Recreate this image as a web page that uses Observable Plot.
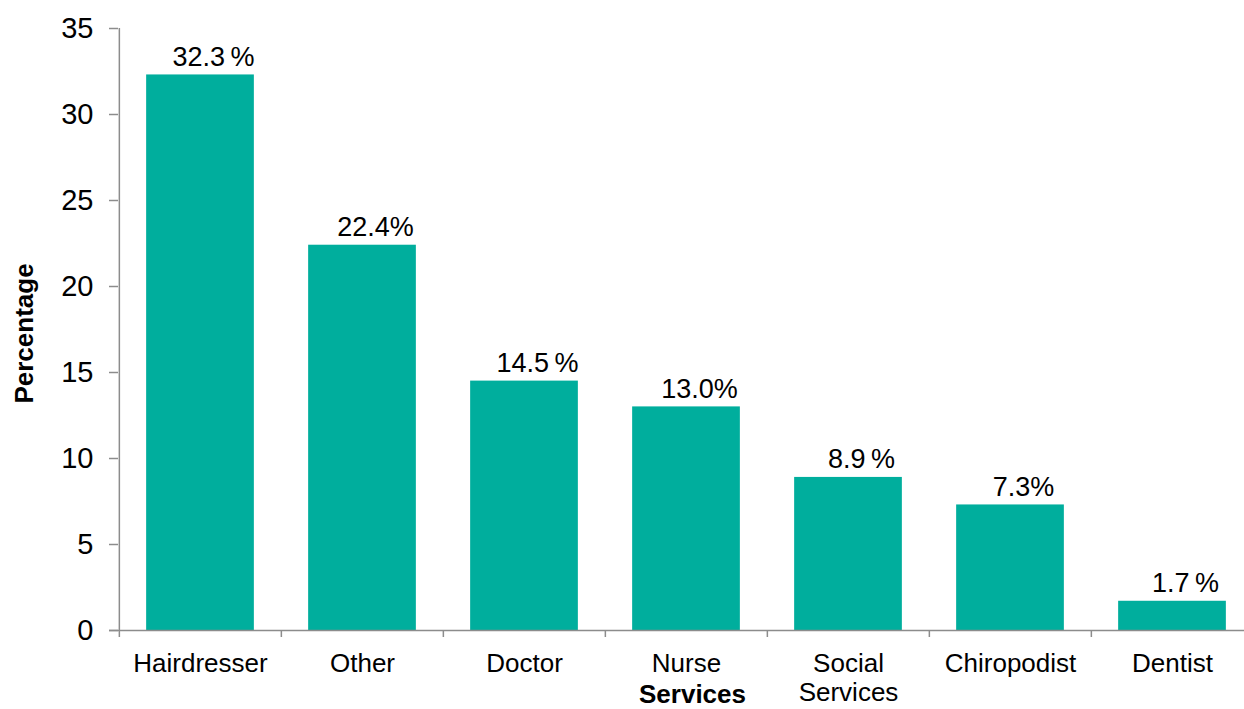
<!DOCTYPE html>
<html>
<head>
<meta charset="utf-8">
<script src="https://cdn.jsdelivr.net/npm/d3@7"></script>
<script src="https://cdn.jsdelivr.net/npm/@observablehq/plot@0.6"></script>
<style>
  html, body { margin: 0; padding: 0; background: #fff; }
  svg { display: block; }
</style>
</head>
<body>
<div id="chart"></div>
<script>
const categories = ["Hairdresser", "Other", "Doctor", "Nurse", "Social\nServices", "Chiropodist", "Dentist"];
const values = [32.3, 22.4, 14.5, 13.0, 8.9, 7.3, 1.7];
const valueLabels = ["32.3\u2009%", "22.4%", "14.5\u2009%", "13.0%", "8.9\u2009%", "7.3%", "1.7\u2009%"];
const yTicks = [0, 5, 10, 15, 20, 25, 30, 35];

const data = categories.map((c, i) => ({category: c, value: values[i], label: valueLabels[i]}));

const W = 1244, H = 709;
const left = 118, right = 1254;
const step = (right - left) / categories.length;
const barWidth = 108;
const inset = (step - barWidth) / 2;
const axisColor = "#8c8c8c";
const font = "Liberation Sans, Arial, Helvetica, sans-serif";

const plot = Plot.plot({
  width: W,
  height: H,
  marginTop: 28,
  marginBottom: 79,
  marginLeft: left,
  marginRight: 0,
  style: {fontFamily: font, fontSize: "26px", color: "#000", background: "#fff"},
  x: {domain: categories, range: [left, right], padding: 0},
  y: {domain: [0, 35], axis: null},
  marks: [
    Plot.barY(data, {x: "category", y: "value", fill: "#00ae9d", insetLeft: inset, insetRight: inset}),
    Plot.ruleY([0], {stroke: axisColor, strokeWidth: 1.5, insetLeft: -9}),
    Plot.ruleX([categories[0]], {y1: 0, y2: 35, dx: -step / 2, stroke: axisColor, strokeWidth: 1.5}),
    Plot.ruleX(categories, {y1: 0, y2: 0, insetBottom: -7, dx: -step / 2, stroke: axisColor, strokeWidth: 1.5}),
    Plot.axisY({ticks: yTicks, tickSize: 9, tickPadding: 16, stroke: axisColor, strokeWidth: 1.5, fill: "#000", fontSize: 29, label: null}),
    Plot.axisX({tickSize: 0, tickPadding: 21, fill: "#000", fontSize: 26, lineHeight: 1.12, label: null}),
    Plot.text(data, {x: "category", y: "value", text: "label", lineAnchor: "bottom", dy: -9, dx: 13, fontSize: 27, fill: "#000"}),
    Plot.text(["Services"], {frameAnchor: "bottom", dy: 72, dx: 11, lineAnchor: "bottom", fontSize: 26, fontWeight: "bold", fill: "#000"}),
    Plot.text(["Percentage"], {frameAnchor: "left", dx: -86, dy: 4, rotate: -90, lineAnchor: "bottom", textAnchor: "middle", fontSize: 26, fontWeight: "bold", fill: "#000"})
  ]
});

document.getElementById("chart").appendChild(plot);
</script>
</body>
</html>
